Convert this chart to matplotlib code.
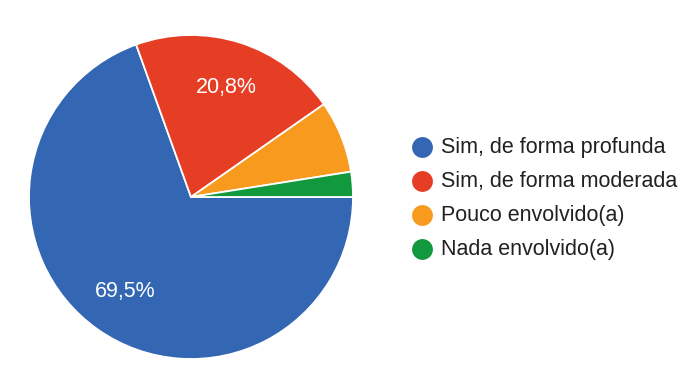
import matplotlib
matplotlib.use("Agg")
import matplotlib.pyplot as plt

categories = ["Sim, de forma profunda", "Sim, de forma moderada",
              "Pouco envolvido(a)", "Nada envolvido(a)"]
values = [69.5, 20.8, 7.2, 2.5]
colors = ["#3366b3", "#e63d25", "#f79a1e", "#12993d"]

W, H = 700, 376
fig = plt.figure(figsize=(W / 100, H / 100), dpi=100)
fig.patch.set_facecolor("white")

# pie area: centre (191, 197) px, radius 162 px
cx, cy, r = 191, 197, 162
ax = fig.add_axes([(cx - r) / W, (H - cy - r) / H, 2 * r / W, 2 * r / H])


def pct_label(p):
    # only the larger slices carry a value label
    return f"{p:.1f}%".replace(".", ",") if p >= 10 else ""


wedges, _, autotexts = ax.pie(
    values, colors=colors, startangle=0, counterclock=False, radius=1,
    autopct=pct_label, pctdistance=0.71,
    wedgeprops=dict(edgecolor="white", linewidth=1.3),
    textprops=dict(color="white", fontsize=15.5, family="Liberation Sans"))
ax.set_xlim(-1, 1)
ax.set_ylim(-1, 1)
ax.set_aspect("equal")
ax.axis("off")

# legend drawn in pixel coordinates
lax = fig.add_axes([0, 0, 1, 1])
lax.set_xlim(0, W)
lax.set_ylim(H, 0)
lax.axis("off")
for k, (name, col) in enumerate(zip(categories, colors)):
    y = 147 + k * 34
    lax.plot(422, y, marker="o", markersize=15, color=col, markeredgewidth=0)
    lax.text(441, y, name, fontsize=15.5, family="Liberation Sans",
             color="#212121", ha="left", va="center")

fig.savefig("out.png", dpi=100, facecolor="white")
